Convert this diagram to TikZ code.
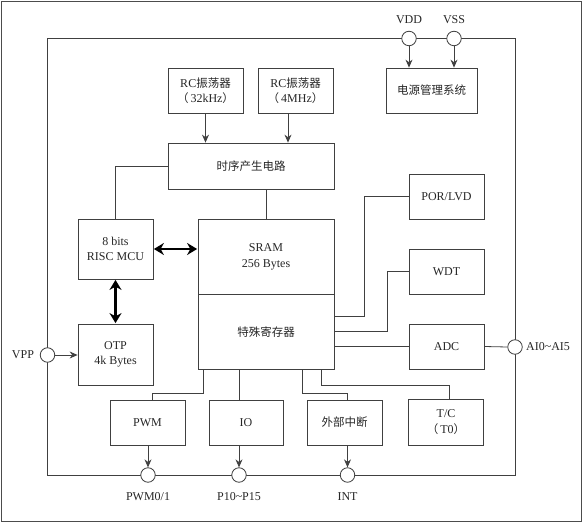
\documentclass[tikz,border=0pt]{standalone}
\usepackage{fontspec}
\setmainfont{Liberation Serif}
\newfontfamily\cjk{Noto Sans CJK SC}
\usetikzlibrary{arrows.meta,calc}
\newcommand{\zh}[1]{{\cjk\fontsize{11.5bp}{15.5bp}\selectfont #1}}
\newcommand{\lp}{\zh{（}\hspace{2bp}}
\newcommand{\rp}{\zh{）}}
\tikzset{
  ln/.style={draw=black!75, line width=0.8bp},
  box/.style={ln, minimum width=75bp, minimum height=45bp, inner sep=0pt, align=center, text=black!85,
    font=\fontsize{12bp}{15.5bp}\selectfont},
  pin/.style={ln, circle, fill=white, minimum size=14.5bp, inner sep=0pt},
  lbl/.style={inner sep=0pt, text=black!85, font=\fontsize{12bp}{14bp}\selectfont},
  arr/.style={ln, -{Stealth[length=8bp,width=7bp]}},
  big/.style={draw=black, line width=2.8bp, {Stealth[length=10bp,width=12bp]}-{Stealth[length=10bp,width=12bp]}, shorten <=0.5bp, shorten >=0.5bp}
}
\begin{document}
\begin{tikzpicture}[x=1bp,y=-1bp]
\useasboundingbox (0,0) rectangle (583,523);
\draw[draw=black!70, line width=0.8bp] (1.5,1.5) rectangle (581.5,521.5);
% chip outline
\draw[ln] (47.5,38.5) rectangle (515,475);

% boxes
\node[box] (rc1) at (205.5,90.5) {RC\zh{振荡器}\\\lp 32kHz\rp};
\node[box] (rc2) at (295.5,90.5) {RC\zh{振荡器}\\\lp 4MHz\rp};
\node[box, minimum width=91bp] (pm) at (431.5,90.5) {\zh{电源管理系统}};
\node[box, minimum width=166bp, minimum height=46bp] (ts) at (251,166) {\zh{时序产生电路}};
\node[box, minimum height=60bp] (mcu) at (115.5,249) {8 bits\\RISC MCU};
\node[box, minimum width=136bp, minimum height=75.5bp] (sram) at (266,256.75) {SRAM\\256 Bytes};
\node[box, minimum width=136bp, minimum height=74.5bp] (sr) at (266,331.75) {\zh{特殊寄存器}};
\node[box, minimum height=61bp] (otp) at (115.5,354.5) {OTP\\4k Bytes};
\node[box] (por) at (446.5,196.5) {POR/LVD};
\node[box] (wdt) at (446.5,271.5) {WDT};
\node[box] (adc) at (446.5,346.5) {ADC};
\node[box, minimum height=46bp] (tc) at (446,422) {T/C\\\lp T0\rp};
\node[box] (pwm) at (147.5,422.5) {PWM};
\node[box, minimum width=74bp] (io) at (246,422.5) {IO};
\node[box] (ext) at (344.5,422.5) {\zh{外部中断}};

% pins
\node[pin] (vdd) at (409,38.5) {};
\node[pin] (vss) at (454,38.5) {};
\node[pin] (vpp) at (47.5,355) {};
\node[pin] (ai) at (515,347) {};
\node[pin] (p1) at (148,475) {};
\node[pin] (p2) at (239,475) {};
\node[pin] (p3) at (347.5,475) {};

% pin labels
\node[lbl] (lvdd) at (409,20) {VDD};
\node[lbl] (lvss) at (454,20) {VSS};
\node[lbl] (lvpp) at (23,355) {VPP};
\node[lbl] (lai) at (548,347) {AI0\textasciitilde AI5};
\node[lbl] (lpwm) at (148,497) {PWM0/1};
\node[lbl] (lp) at (239,497) {P10\textasciitilde P15};
\node[lbl] (lint) at (347.5,497) {INT};

% connectors
\draw[arr] (vdd.south) -- (vdd |- pm.north);
\draw[arr] (vss.south) -- (vss |- pm.north);
\draw[arr] (rc1.south) -- (rc1.south |- ts.north);
\draw[arr] ([xshift=-7.5bp]rc2.south) -- ([xshift=-7.5bp]rc2.south |- ts.north);
\draw[ln] (ts.west) -| (mcu.north);
\draw[ln] (sram.north) -- (sram.north |- ts.south);
\draw[big] (mcu.east) -- (sram.west |- mcu.east);
\draw[big] (mcu.south) -- (otp.north);
\draw[arr] (vpp.east) -- (vpp -| otp.west);
\draw[ln] ([yshift=-22.5bp]sr.north east) -- ++(30,0) |- (por.west);
\draw[ln] ([yshift=-37.5bp]sr.north east) -- ++(53,0) |- (wdt.west);
\draw[ln] (sr.east |- adc.west) -- (adc.west);
\draw[ln] (adc.east) -- (ai.west);
\draw[ln] ([xshift=6bp]sr.south west) -- ++(0,24) -| ([xshift=4.5bp]pwm.north);
\draw[ln] (p2 |- sr.south) -- (p2 |- io.north);
\draw[ln] ([xshift=104.7bp]sr.south west) -- ++(0,24) -| (p3 |- ext.north);
\draw[ln] ([xshift=123.7bp]sr.south west) -- ++(0,15.5) -| ([xshift=3bp]tc.north);
\draw[arr] (p1 |- pwm.south) -- (p1.north);
\draw[arr] (p2 |- io.south) -- (p2.north);
\draw[arr] (p3 |- ext.south) -- (p3.north);
\end{tikzpicture}
\end{document}
